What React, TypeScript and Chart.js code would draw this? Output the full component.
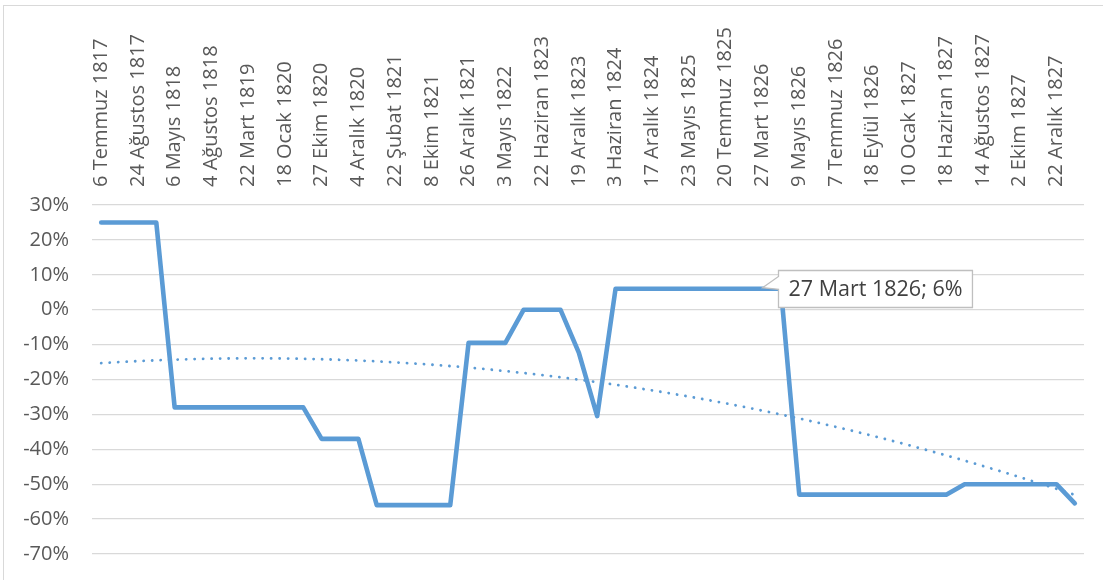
import React, { useEffect, useRef } from 'react';
import { Chart, registerables } from 'chart.js';

Chart.register(...registerables);

// Category labels shown on the axis (every second category carries a label)
const tickLabels = [
  '6 Temmuz 1817', '24 Ağustos 1817', '6 Mayıs 1818', '4 Ağustos 1818', '22 Mart 1819',
  '18 Ocak 1820', '27 Ekim 1820', '4 Aralık 1820', '22 Şubat 1821', '8 Ekim 1821',
  '26 Aralık 1821', '3 Mayıs 1822', '22 Haziran 1823', '19 Aralık 1823', '3 Haziran 1824',
  '17 Aralık 1824', '23 Mayıs 1825', '20 Temmuz 1825', '27 Mart 1826', '9 Mayıs 1826',
  '7 Temmuz 1826', '18 Eylül 1826', '10 Ocak 1827', '18 Haziran 1827', '14 Ağustos 1827',
  '2 Ekim 1827', '22 Aralık 1827',
];

// Series values in percent, one per category (54 categories)
const values = [
  25, 25, 25, 25,
  -28, -28, -28, -28, -28, -28, -28, -28,
  -37, -37, -37,
  -56, -56, -56, -56, -56,
  -9.5, -9.5, -9.5,
  0, 0, 0,
  -12.3, -30.5,
  6, 6, 6, 6, 6, 6, 6, 6, 6, 6,
  -53, -53, -53, -53, -53, -53, -53, -53, -53,
  -50, -50, -50, -50, -50, -50,
  -55.5,
];

const yTicks = [-70, -60, -50, -40, -30, -20, -10, 0, 10, 20, 30];
const calloutLabel = '27 Mart 1826';

const categories = values.map((_, i) => (i % 2 === 0 ? tickLabels[i / 2] : ''));
const calloutIndex = categories.indexOf(calloutLabel);

// Polynomial (order 2) least-squares trendline, as the spreadsheet computes it
function polyFit(ys: number[], order: number): number[] {
  const n = order + 1;
  const A: number[][] = Array.from({ length: n }, () => new Array(n + 1).fill(0));
  ys.forEach((y, i) => {
    const x = i + 1;
    for (let r = 0; r < n; r++) {
      for (let c = 0; c < n; c++) A[r][c] += Math.pow(x, r + c);
      A[r][n] += y * Math.pow(x, r);
    }
  });
  for (let p = 0; p < n; p++) {
    let best = p;
    for (let r = p + 1; r < n; r++) if (Math.abs(A[r][p]) > Math.abs(A[best][p])) best = r;
    [A[p], A[best]] = [A[best], A[p]];
    for (let r = 0; r < n; r++) {
      if (r === p) continue;
      const f = A[r][p] / A[p][p];
      for (let c = p; c <= n; c++) A[r][c] -= f * A[p][c];
    }
  }
  const coef = A.map((row, i) => row[n] / row[i]);
  return ys.map((_, i) => coef.reduce((s, k, j) => s + k * Math.pow(i + 1, j), 0));
}

const trend = polyFit(values, 2);

const FONT = '"Open Sans", "Noto Sans", sans-serif';
const BLUE = '#5b9bd5';
const X_FONT_SIZE = 20;

const calloutPlugin = {
  id: 'callout',
  afterDatasetsDraw(chart: any) {
    const meta = chart.getDatasetMeta(1);
    const pt = meta.data[calloutIndex];
    if (!pt) return;
    const ctx = chart.ctx;
    const text = `${calloutLabel}; ${values[calloutIndex]}%`;
    ctx.save();
    ctx.font = `21.5px ${FONT}`;
    const tw = ctx.measureText(text).width;
    const padX = 10;
    const h = 37;
    const bx = Math.round(pt.x + 15) + 0.5;
    const by = Math.round(pt.y - h / 2) + 0.5;
    const bw = tw + padX * 2;
    ctx.beginPath();
    ctx.moveTo(bx, by);
    ctx.lineTo(bx + bw, by);
    ctx.lineTo(bx + bw, by + h);
    ctx.lineTo(bx, by + h);
    ctx.lineTo(bx, pt.y + 0.5);
    ctx.lineTo(pt.x, pt.y - 1);
    ctx.lineTo(bx, by + 6);
    ctx.closePath();
    ctx.fillStyle = '#ffffff';
    ctx.fill();
    ctx.strokeStyle = '#bfbfbf';
    ctx.lineWidth = 1.3;
    ctx.stroke();
    ctx.fillStyle = '#404040';
    ctx.textBaseline = 'middle';
    ctx.textAlign = 'left';
    ctx.fillText(text, bx + padX, by + h / 2 + 1);
    ctx.restore();
  },
};

export default function App() {
  const ref = useRef<HTMLCanvasElement | null>(null);
  useEffect(() => {
    if (!ref.current) return;
    const chart = new Chart(ref.current, {
      type: 'line',
      data: {
        labels: categories,
        datasets: [
          {
            label: 'Trend',
            data: trend,
            borderColor: BLUE,
            borderWidth: 2.8,
            borderDash: [0.1, 8.4],
            borderCapStyle: 'round',
            pointRadius: 0,
            fill: false,
            order: 0,
          },
          {
            label: 'Değişim',
            data: values,
            borderColor: BLUE,
            borderWidth: 4.6,
            borderJoinStyle: 'round',
            borderCapStyle: 'round',
            pointRadius: 0,
            fill: false,
            order: 1,
          },
        ],
      },
      options: {
        responsive: false,
        animation: false,
        layout: { padding: { left: 0, right: 19, top: 0, bottom: 26 } },
        plugins: { legend: { display: false }, tooltip: { enabled: false }, title: { display: false } },
        scales: {
          x: {
            type: 'category',
            position: 'top',
            offset: true,
            grid: { display: false, drawTicks: false },
            border: { display: false },
            ticks: {
              autoSkip: false,
              maxRotation: 90,
              minRotation: 90,
              padding: 18,
              labelOffset: X_FONT_SIZE * 1.2,
              color: '#595959',
              font: { family: FONT, size: X_FONT_SIZE },
            },
            afterFit: (s: any) => { s.height = 205; },
          },
          y: {
            min: -70,
            max: 30,
            afterBuildTicks: (s: any) => { s.ticks = yTicks.map((v) => ({ value: v })); },
            grid: { color: '#d9d9d9', lineWidth: 1.3, drawTicks: true, tickLength: 23, tickColor: 'rgba(0,0,0,0)' },
            border: { display: false },
            ticks: {
              padding: 0,
              color: '#595959',
              font: { family: FONT, size: 20 },
              callback: (v: any) => `${v}%`,
            },
            afterFit: (s: any) => { s.width = 92; },
          },
        },
      },
      plugins: [calloutPlugin],
    });
    return () => chart.destroy();
  }, []);

  return (
    <div style={{ position: 'absolute', left: 0, top: 0, width: 1103, height: 580, background: '#fff', overflow: 'hidden' }}>
      <div style={{ position: 'absolute', left: 3, top: 5, width: 1200, height: 700, borderLeft: '1.5px solid #d9d9d9', borderTop: '1.5px solid #d9d9d9' }} />
      <canvas ref={ref} width={1103} height={580} style={{ position: 'absolute', left: 0, top: 0, width: 1103, height: 580 }} />
    </div>
  );
}
